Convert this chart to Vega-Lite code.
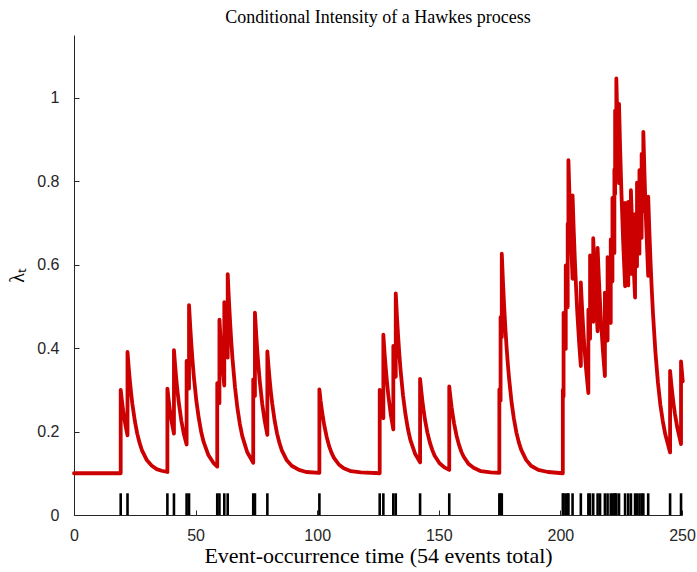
{
  "$schema": "https://vega.github.io/schema/vega-lite/v6.json",
  "width": 608,
  "height": 480,
  "autosize": "none",
  "padding": {"left": 74, "top": 35, "right": 15, "bottom": 57},
  "background": "white",
  "config": {"view": {"stroke": null}, "axis": {"grid": false}},
  "title": {"text": "Conditional Intensity of a Hawkes process", "font": "Liberation Serif", "fontSize": 18, "fontWeight": "normal", "color": "#000000", "anchor": "middle", "offset": 8},
  "datasets": {
    "intensity": [
      {"t":0,"v":0.1},{"t":19.2,"v":0.1},{"t":19.2,"v":0.3},{"t":19.7,"v":0.274},{"t":20.2,"v":0.251},{"t":20.7,"v":0.231},{"t":21.2,"v":0.214},{"t":22.0,"v":0.191},{"t":22.0,"v":0.391},{"t":22.5,"v":0.353},{"t":23.0,"v":0.320},{"t":23.5,"v":0.291},{"t":24.0,"v":0.266},{"t":25.0,"v":0.226},{"t":26.0,"v":0.195},{"t":27.0,"v":0.172},{"t":28.0,"v":0.154},{"t":30.0,"v":0.131},{"t":32.0,"v":0.118},{"t":34.0,"v":0.110},{"t":36.0,"v":0.106},{"t":38.4,"v":0.103},
      {"t":38.4,"v":0.303},{"t":38.9,"v":0.276},{"t":39.4,"v":0.253},{"t":39.9,"v":0.233},{"t":40.4,"v":0.216},{"t":41.1,"v":0.195},{"t":41.1,"v":0.395},{"t":41.6,"v":0.357},{"t":42.1,"v":0.323},{"t":42.6,"v":0.294},{"t":43.1,"v":0.269},{"t":44.1,"v":0.227},{"t":45.1,"v":0.196},{"t":46.3,"v":0.169},{"t":46.3,"v":0.369},{"t":46.8,"v":0.334},{"t":47.3,"v":0.303},{"t":47.3,"v":0.503},{"t":47.8,"v":0.451},{"t":48.3,"v":0.405},{"t":48.8,"v":0.365},{"t":49.3,"v":0.330},{"t":50.3,"v":0.274},{"t":51.3,"v":0.232},{"t":52.3,"v":0.199},{"t":53.3,"v":0.175},{"t":55.3,"v":0.143},{"t":57.3,"v":0.125},{"t":58.9,"v":0.116},
      {"t":58.9,"v":0.316},{"t":59.35,"v":0.290},{"t":59.8,"v":0.268},{"t":59.8,"v":0.468},{"t":60.3,"v":0.420},{"t":60.8,"v":0.378},{"t":61.3,"v":0.342},{"t":61.8,"v":0.310},{"t":61.8,"v":0.510},{"t":62.5,"v":0.437},{"t":63.2,"v":0.377},{"t":63.2,"v":0.577},{"t":63.7,"v":0.515},{"t":64.2,"v":0.461},{"t":64.7,"v":0.413},{"t":65.2,"v":0.372},{"t":66.2,"v":0.306},{"t":67.2,"v":0.256},{"t":68.2,"v":0.218},{"t":69.2,"v":0.189},{"t":71.2,"v":0.151},{"t":73.7,"v":0.125},
      {"t":73.7,"v":0.325},{"t":74.05,"v":0.304},{"t":74.4,"v":0.285},{"t":74.4,"v":0.485},{"t":74.9,"v":0.435},{"t":75.4,"v":0.391},{"t":75.9,"v":0.353},{"t":76.4,"v":0.320},{"t":77.4,"v":0.266},{"t":78.4,"v":0.226},{"t":79.5,"v":0.192},{"t":79.5,"v":0.392},{"t":80.0,"v":0.354},{"t":80.5,"v":0.321},{"t":81.0,"v":0.292},{"t":81.5,"v":0.267},{"t":82.5,"v":0.226},{"t":83.5,"v":0.195},{"t":84.5,"v":0.172},{"t":85.5,"v":0.154},{"t":87.5,"v":0.131},{"t":89.5,"v":0.118},{"t":92.5,"v":0.108},{"t":95.5,"v":0.103},{"t":100.9,"v":0.101},
      {"t":100.9,"v":0.301},{"t":101.4,"v":0.274},{"t":101.9,"v":0.252},{"t":102.4,"v":0.232},{"t":102.9,"v":0.215},{"t":103.9,"v":0.187},{"t":104.9,"v":0.165},{"t":105.9,"v":0.149},{"t":106.9,"v":0.137},{"t":108.9,"v":0.121},{"t":110.9,"v":0.112},{"t":113.9,"v":0.105},{"t":117.9,"v":0.102},{"t":125.7,"v":0.100},
      {"t":125.7,"v":0.300},{"t":126.2,"v":0.274},{"t":126.7,"v":0.251},{"t":127.2,"v":0.232},{"t":127.2,"v":0.432},{"t":127.7,"v":0.388},{"t":128.2,"v":0.351},{"t":128.7,"v":0.318},{"t":129.2,"v":0.289},{"t":130.2,"v":0.243},{"t":131.3,"v":0.205},{"t":131.3,"v":0.405},{"t":131.8,"v":0.365},{"t":132.3,"v":0.331},{"t":132.3,"v":0.531},{"t":132.8,"v":0.474},{"t":133.3,"v":0.426},{"t":133.8,"v":0.383},{"t":134.3,"v":0.346},{"t":135.3,"v":0.286},{"t":136.3,"v":0.241},{"t":137.3,"v":0.206},{"t":138.3,"v":0.180},{"t":140.3,"v":0.146},{"t":142.3,"v":0.126},
      {"t":142.3,"v":0.326},{"t":142.8,"v":0.297},{"t":143.3,"v":0.271},{"t":143.8,"v":0.249},{"t":144.3,"v":0.229},{"t":145.3,"v":0.198},{"t":146.3,"v":0.174},{"t":147.3,"v":0.156},{"t":148.3,"v":0.142},{"t":150.3,"v":0.124},{"t":152.3,"v":0.114},{"t":154.3,"v":0.108},
      {"t":154.3,"v":0.308},{"t":154.8,"v":0.281},{"t":155.3,"v":0.257},{"t":155.8,"v":0.237},{"t":156.3,"v":0.219},{"t":157.3,"v":0.190},{"t":158.3,"v":0.168},{"t":159.3,"v":0.151},{"t":160.3,"v":0.139},{"t":162.3,"v":0.122},{"t":164.3,"v":0.113},{"t":167.3,"v":0.105},{"t":171.3,"v":0.102},{"t":174.9,"v":0.101},
      {"t":174.9,"v":0.301},{"t":175.4,"v":0.274},{"t":175.4,"v":0.474},{"t":175.9,"v":0.426},{"t":175.9,"v":0.626},{"t":176.4,"v":0.557},{"t":176.9,"v":0.497},{"t":177.4,"v":0.445},{"t":177.9,"v":0.400},{"t":178.4,"v":0.361},{"t":178.9,"v":0.327},{"t":179.9,"v":0.271},{"t":180.9,"v":0.230},{"t":181.9,"v":0.198},{"t":182.9,"v":0.174},{"t":183.9,"v":0.156},{"t":185.9,"v":0.132},{"t":187.9,"v":0.118},{"t":190.9,"v":0.108},{"t":194.9,"v":0.103},{"t":201.0,"v":0.100},
      {"t":201.0,"v":0.300},{"t":201.3,"v":0.284},{"t":201.3,"v":0.484},{"t":201.75,"v":0.438},{"t":202.2,"v":0.398},{"t":202.2,"v":0.598},{"t":202.6,"v":0.546},{"t":203.0,"v":0.498},{"t":203.0,"v":0.698},{"t":203.3,"v":0.650},{"t":203.3,"v":0.850},{"t":203.8,"v":0.752},{"t":204.3,"v":0.667},{"t":205.0,"v":0.566},{"t":205.0,"v":0.766},{"t":205.5,"v":0.679},{"t":206.0,"v":0.603},{"t":206.5,"v":0.538},{"t":207.0,"v":0.480},{"t":207.7,"v":0.413},{"t":208.4,"v":0.357},
      {"t":208.4,"v":0.557},{"t":208.9,"v":0.497},{"t":209.4,"v":0.445},{"t":209.9,"v":0.400},{"t":210.6,"v":0.347},{"t":211.5,"v":0.292},{"t":211.5,"v":0.492},{"t":211.85,"v":0.455},{"t":212.2,"v":0.422},{"t":212.2,"v":0.622},{"t":212.85,"v":0.535},{"t":213.5,"v":0.463},{"t":213.5,"v":0.663},{"t":214.1,"v":0.576},{"t":214.7,"v":0.502},{"t":215.3,"v":0.440},{"t":215.3,"v":0.640},{"t":215.8,"v":0.569},{"t":216.3,"v":0.508},{"t":216.8,"v":0.455},{"t":217.5,"v":0.392},{"t":218.3,"v":0.333},
      {"t":218.3,"v":0.533},{"t":218.85,"v":0.471},{"t":219.4,"v":0.418},{"t":219.4,"v":0.618},{"t":220.05,"v":0.532},{"t":220.7,"v":0.460},{"t":220.7,"v":0.660},{"t":221.4,"v":0.560},{"t":221.4,"v":0.760},{"t":221.8,"v":0.690},{"t":222.2,"v":0.628},{"t":222.2,"v":0.828},{"t":222.5,"v":0.769},{"t":222.5,"v":0.969},{"t":223.0,"v":0.856},{"t":223.0,"v":1.046},{"t":223.55,"v":0.912},{"t":224.1,"v":0.795},{"t":224.1,"v":0.985},{"t":224.6,"v":0.870},{"t":225.1,"v":0.772},{"t":225.8,"v":0.655},{"t":226.6,"v":0.548},
      {"t":226.6,"v":0.748},{"t":227.25,"v":0.640},{"t":227.9,"v":0.550},{"t":227.9,"v":0.750},{"t":228.45,"v":0.657},{"t":229.0,"v":0.578},{"t":229.0,"v":0.778},{"t":229.5,"v":0.689},{"t":230.0,"v":0.612},{"t":230.7,"v":0.521},{"t":230.7,"v":0.721},{"t":231.1,"v":0.655},{"t":231.5,"v":0.596},{"t":231.5,"v":0.796},{"t":232.0,"v":0.705},{"t":232.5,"v":0.626},{"t":232.5,"v":0.826},{"t":232.95,"v":0.740},{"t":233.4,"v":0.664},{"t":233.4,"v":0.865},{"t":233.75,"v":0.793},{"t":234.1,"v":0.728},{"t":234.1,"v":0.918},{"t":234.6,"v":0.812},{"t":235.1,"v":0.720},{"t":236.1,"v":0.573},
      {"t":236.1,"v":0.763},{"t":236.6,"v":0.677},{"t":237.1,"v":0.602},{"t":237.6,"v":0.536},{"t":238.1,"v":0.480},{"t":239.1,"v":0.388},{"t":240.1,"v":0.318},{"t":241.1,"v":0.264},{"t":242.1,"v":0.225},{"t":243.1,"v":0.194},{"t":245.1,"v":0.150},{"t":245.1,"v":0.345},{"t":245.6,"v":0.314},{"t":246.1,"v":0.287},{"t":246.6,"v":0.263},{"t":247.1,"v":0.242},{"t":248.1,"v":0.208},{"t":249.6,"v":0.170},{"t":249.6,"v":0.368},{"t":250.3,"v":0.320}
    ],
    "events": [
      {"t":19.2},{"t":22.0},{"t":38.4},{"t":41.1},{"t":46.3},{"t":47.3},{"t":58.9},{"t":59.8},{"t":61.8},{"t":63.2},
      {"t":73.7},{"t":74.4},{"t":79.5},{"t":100.9},{"t":125.7},{"t":127.2},{"t":131.3},{"t":132.3},{"t":142.3},{"t":154.3},
      {"t":174.9},{"t":175.4},{"t":175.9},{"t":201.0},{"t":201.3},{"t":202.2},{"t":203.0},{"t":203.3},{"t":205.0},{"t":208.4},
      {"t":211.5},{"t":212.2},{"t":213.5},{"t":215.3},{"t":216.3},{"t":218.3},{"t":219.4},{"t":220.7},{"t":221.4},{"t":222.2},
      {"t":222.5},{"t":223.0},{"t":224.1},{"t":226.6},{"t":227.9},{"t":229.0},{"t":230.7},{"t":231.5},{"t":232.5},{"t":233.4},
      {"t":234.1},{"t":236.1},{"t":245.1},{"t":249.6}
    ]
  },
  "layer": [
    {
      "data": {"name": "events"},
      "mark": {"type": "rule", "color": "#000000", "strokeWidth": 2.6},
      "encoding": {
        "x": {"field": "t", "type": "quantitative"},
        "y": {"datum": 0, "type": "quantitative"},
        "y2": {"datum": 0.052}
      }
    },
    {
      "data": {"name": "intensity"},
      "mark": {"type": "line", "color": "#CC0000", "strokeWidth": 3.8, "strokeJoin": "round", "strokeCap": "round", "clip": false},
      "encoding": {
        "x": {
          "field": "t", "type": "quantitative",
          "scale": {"domain": [0, 250], "nice": false, "zero": false},
          "axis": {
            "values": [0, 50, 100, 150, 200, 250],
            "title": "Event-occurrence time (54 events total)",
            "titleFont": "Liberation Serif", "titleFontSize": 22, "titleFontWeight": "normal", "titleColor": "#000000", "titlePadding": 2,
            "labelFont": "Liberation Sans", "labelFontSize": 16, "labelColor": "#262626", "labelPadding": 17,
            "domainColor": "#262626", "domainWidth": 1, "tickColor": "#262626", "tickSize": -5, "labelFlush": false
          }
        },
        "y": {
          "field": "v", "type": "quantitative",
          "scale": {"domain": [0, 1.15], "nice": false},
          "axis": {
            "values": [0, 0.2, 0.4, 0.6, 0.8, 1],
            "format": "~g",
            "title": "λₜ",
            "titleFont": "Liberation Serif", "titleFontSize": 20, "titleFontWeight": "normal", "titleColor": "#000000", "titlePadding": 9,
            "labelFont": "Liberation Sans", "labelFontSize": 16, "labelColor": "#262626", "labelPadding": 20,
            "domainColor": "#262626", "domainWidth": 1, "tickColor": "#262626", "tickSize": -5, "labelFlush": false
          }
        },
        "order": {"value": null}
      }
    }
  ]
}
